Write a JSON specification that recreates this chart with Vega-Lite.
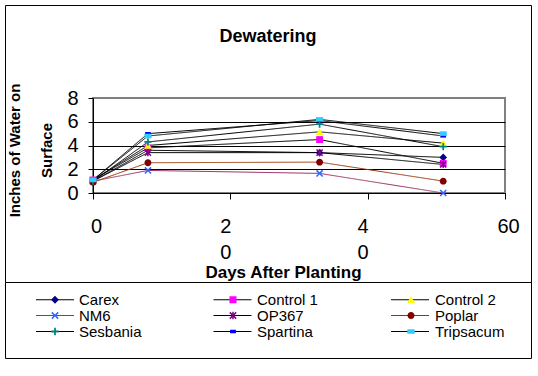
{
  "$schema": "https://vega.github.io/schema/vega-lite/v6.json",
  "width": 412,
  "height": 95,
  "autosize": {"type": "none"},
  "padding": {"left": 93, "top": 98, "right": 33, "bottom": 183},
  "background": "white",
  "data": {"values": [
    {"series": "Carex", "day": 0, "inches": 1.0},
    {"series": "Carex", "day": 8, "inches": 3.6},
    {"series": "Carex", "day": 33, "inches": 3.4},
    {"series": "Carex", "day": 51, "inches": 3.0},
    {"series": "Control 1", "day": 0, "inches": 1.1},
    {"series": "Control 1", "day": 8, "inches": 3.8},
    {"series": "Control 1", "day": 33, "inches": 4.5},
    {"series": "Control 1", "day": 51, "inches": 2.5},
    {"series": "Control 2", "day": 0, "inches": 1.1},
    {"series": "Control 2", "day": 8, "inches": 4.0},
    {"series": "Control 2", "day": 33, "inches": 5.15},
    {"series": "Control 2", "day": 51, "inches": 4.2},
    {"series": "NM6", "day": 0, "inches": 1.0},
    {"series": "NM6", "day": 8, "inches": 1.9},
    {"series": "NM6", "day": 33, "inches": 1.65},
    {"series": "NM6", "day": 51, "inches": 0.0},
    {"series": "OP367", "day": 0, "inches": 1.0},
    {"series": "OP367", "day": 8, "inches": 3.4},
    {"series": "OP367", "day": 33, "inches": 3.4},
    {"series": "OP367", "day": 51, "inches": 2.4},
    {"series": "Poplar", "day": 0, "inches": 0.9},
    {"series": "Poplar", "day": 8, "inches": 2.55},
    {"series": "Poplar", "day": 33, "inches": 2.6},
    {"series": "Poplar", "day": 51, "inches": 1.0},
    {"series": "Sesbania", "day": 0, "inches": 1.0},
    {"series": "Sesbania", "day": 8, "inches": 4.3},
    {"series": "Sesbania", "day": 33, "inches": 5.8},
    {"series": "Sesbania", "day": 51, "inches": 3.9},
    {"series": "Spartina", "day": 0, "inches": 1.1},
    {"series": "Spartina", "day": 8, "inches": 5.0},
    {"series": "Spartina", "day": 33, "inches": 6.1},
    {"series": "Spartina", "day": 51, "inches": 4.8},
    {"series": "Tripsacum", "day": 0, "inches": 1.1},
    {"series": "Tripsacum", "day": 8, "inches": 4.8},
    {"series": "Tripsacum", "day": 33, "inches": 6.2},
    {"series": "Tripsacum", "day": 51, "inches": 5.0}
  ]},
  "encoding": {
    "x": {"field": "day", "type": "quantitative",
      "scale": {"domain": [0, 60], "nice": false},
      "axis": {"values": [0, 20, 40, 60], "grid": false,
        "labelExpr": "datum.value == 20 ? ['2','0'] : datum.value == 40 ? ['4','0'] : datum.label",
        "labelFont": "Liberation Sans", "labelFontSize": 20, "labelLineHeight": 26, "labelColor": "black",
        "labelPadding": 17, "labelFlush": false, "labelOverlap": false, "labelAngle": 0,
        "labelOffset": {"condition": {"test": "datum.value == 20 || datum.value == 40", "value": -5}, "value": 3},
        "tickSize": 6, "tickColor": "black", "domainColor": "black",
        "title": "Days After Planting", "titleFont": "Liberation Sans", "titleFontSize": 17, "titleFontWeight": "bold", "titleColor": "black",
        "titleX": 190, "titleY": 84, "titleBaseline": "alphabetic", "titleAlign": "center"}},
    "y": {"field": "inches", "type": "quantitative",
      "scale": {"domain": [0, 8], "nice": false},
      "axis": {"values": [0, 2, 4, 6, 8], "grid": true,
        "gridColor": {"condition": {"test": "datum.value == 8 || datum.value == 0", "value": "transparent"}, "value": "black"},
        "labelFont": "Liberation Sans", "labelFontSize": 20, "labelColor": "black", "labelPadding": 10,
        "tickSize": 5, "tickColor": "black", "domainColor": "black",
        "title": ["Inches of Water on", "Surface"], "titleFont": "Liberation Sans", "titleFontSize": 15, "titleFontWeight": "bold", "titleColor": "black",
        "titleLineHeight": 32, "titleX": -71, "titleY": 52, "titleBaseline": "bottom", "titleAlign": "center", "titleAngle": -90}}
  },
  "layer": [
    {"mark": {"type": "line", "strokeWidth": 1},
     "encoding": {
       "stroke": {"field": "series", "type": "nominal",
         "scale": {"domain": ["Carex", "Control 1", "Control 2", "NM6", "OP367", "Poplar", "Sesbania", "Spartina", "Tripsacum"],
                   "range": ["black", "black", "black", "#993366", "black", "#993300", "black", "black", "black"]},
         "legend": {"orient": "none", "legendX": -78, "legendY": 194, "columns": 3, "direction": "horizontal", "gridAlign": "all",
           "padding": 0, "clipHeight": 15, "rowPadding": 0, "columnPadding": 117.5,
           "symbolType": "stroke", "symbolSize": 1444, "symbolStrokeWidth": 1, "symbolOffset": 20.5,
           "labelExpr": "''", "labelFontSize": 15, "labelFont": "Liberation Sans", "labelOffset": 0,
           "title": null}},
       "strokeWidth": {"field": "series", "type": "nominal",
         "scale": {"type": "point", "domain": ["Carex", "Tripsacum", "Control 1", "Spartina", "Control 2", "Sesbania", "NM6", "Poplar", "OP367"], "range": [1, 1]},
         "legend": {"orient": "none", "legendX": -88, "legendY": 184, "values": ["Carex"], "padding": 0, "strokeColor": "black",
           "clipHeight": 76, "symbolOpacity": 0, "symbolType": "stroke", "symbolSize": 275625,
           "labelExpr": "''", "labelFontSize": 10, "labelOffset": 0, "title": null}},
       "strokeDash": {"field": "series", "type": "nominal",
         "scale": {"domain": ["Tripsacum", "Spartina", "Sesbania", "Poplar", "OP367", "NM6", "Control 2", "Control 1", "Carex"],
                   "range": [[1, 0], [1, 0], [1, 0], [1, 0], [1, 0], [1, 0], [1, 0], [1, 0], [1, 0]]},
         "legend": {"orient": "none", "legendX": -88, "legendY": -93, "values": ["Carex"], "padding": 23, "strokeColor": "black",
           "clipHeight": 15, "symbolOpacity": 0, "symbolType": "stroke", "symbolSize": 230400, "symbolStrokeWidth": 0,
           "labelExpr": "''", "labelFontSize": 14, "labelOffset": 0,
           "title": "Dewatering", "titleOrient": "top", "titleAnchor": "middle", "titleFont": "Liberation Sans", "titleFontSize": 18, "titleFontWeight": "bold", "titleColor": "black", "titlePadding": 198, "titleLimit": 2000}}
     }},
    {"mark": {"type": "point", "filled": true, "size": 1444, "opacity": 1, "strokeWidth": 0},
     "encoding": {
       "color": {"field": "series", "type": "nominal",
         "scale": {"range": ["#000080", "#FF00FF", "#FFFF00", "#3366FF", "#800080", "#800000", "#008080", "#0000FF", "#33CCFF"]},
         "legend": {"orient": "none", "legendX": -88, "legendY": 184, "columns": 3, "direction": "horizontal", "gridAlign": "all",
           "padding": 10, "clipHeight": 15, "rowPadding": 0, "columnPadding": 44,
           "symbolSize": 1521, "symbolStrokeWidth": 0, "symbolOffset": 20.5, "symbolOpacity": 1,
           "labelFontSize": 15, "labelFont": "Liberation Sans", "labelColor": "black", "labelOffset": 4.5,
           "title": null}},
       "shape": {"field": "series", "type": "nominal",
         "scale": {"range": [
           "M0,-0.2L0.2,0L0,0.2L-0.2,0Z",
           "M-0.18,-0.18H0.18V0.18H-0.18Z",
           "M0,-0.19L0.2,0.17H-0.2Z",
           "M-0.19,-0.133L-0.133,-0.19L0,-0.057L0.133,-0.19L0.19,-0.133L0.057,0L0.19,0.133L0.133,0.19L0,0.057L-0.133,0.19L-0.19,0.133L-0.057,0Z",
           "M-0.19,-0.133L-0.133,-0.19L0,-0.057L0.133,-0.19L0.19,-0.133L0.057,0L0.19,0.133L0.133,0.19L0,0.057L-0.133,0.19L-0.19,0.133L-0.057,0Z M-0.038,-0.19H0.038V0.19H-0.038Z",
           "M-0.18,0A0.18,0.18 0 1,0 0.18,0A0.18,0.18 0 1,0 -0.18,0Z",
           "M-0.045,-0.19H0.045V-0.045H0.19V0.045H0.045V0.19H-0.045V0.045H-0.19V-0.045H-0.045Z",
           "M-0.15,-0.085H0.15V0.085H-0.15Z",
           "M-0.19,-0.12H0.19V0.12H-0.19Z"]},
         "legend": {"orient": "none", "legendX": -88, "legendY": 184, "columns": 3, "direction": "horizontal", "gridAlign": "all",
           "padding": 10, "clipHeight": 15, "rowPadding": 0, "columnPadding": 44,
           "symbolSize": 1521, "symbolStrokeWidth": 0, "symbolOffset": 20.5, "symbolOpacity": 1,
           "labelFontSize": 15, "labelFont": "Liberation Sans", "labelColor": "black", "labelOffset": 4.5,
           "title": null}}
     }}
  ],
  "config": {"view": {"stroke": "#808080", "strokeWidth": 2}, "font": "Liberation Sans"}
}
